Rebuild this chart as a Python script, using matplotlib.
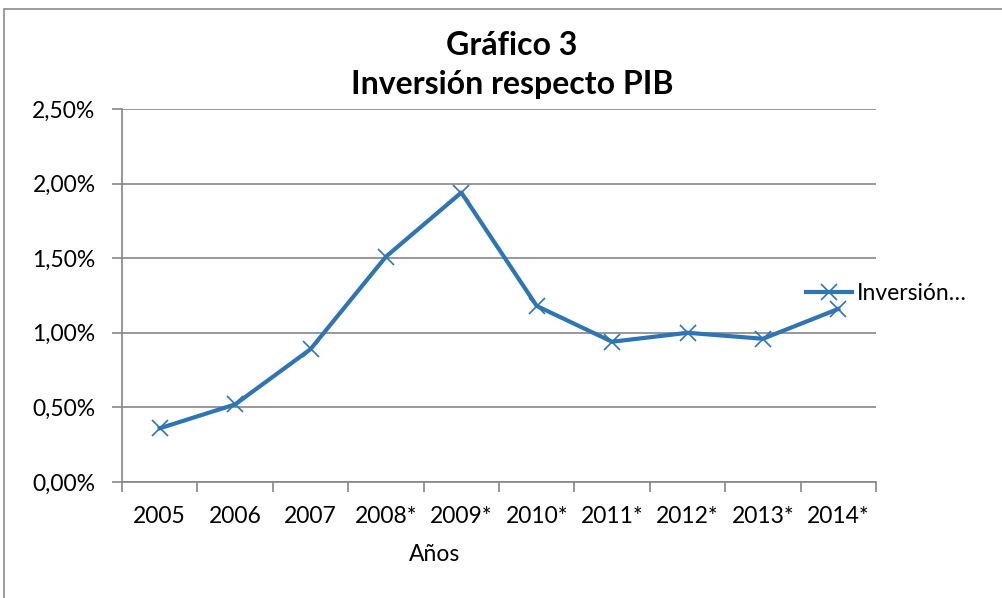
import matplotlib.pyplot as plt
from matplotlib.patches import Rectangle
from matplotlib.ticker import FuncFormatter

plt.rcParams['font.family'] = ['Lato', 'DejaVu Sans']

anios = ['2005', '2006', '2007', '2008*', '2009*', '2010*', '2011*', '2012*', '2013*', '2014*']
inversion = [0.0036, 0.0052, 0.0089, 0.0151, 0.0194, 0.0118, 0.0094, 0.0100, 0.0096, 0.0116]

fig = plt.figure(figsize=(10.02, 5.98), dpi=100)
ax = fig.add_axes([122/1002, 1 - 482/598, (876-122)/1002, (482-109)/598])

# marco del grafico (solo se ven borde superior e izquierdo)
fig.patches.append(Rectangle((4/1002, -0.1), 1.2, 1 - 9/598 + 0.1, transform=fig.transFigure,
                             fill=False, edgecolor='#8c8c8c', linewidth=1.2))

x = list(range(len(anios)))
ax.plot(x, inversion, color='#2e75b6', linewidth=3, marker='x', markersize=11,
        markeredgewidth=1.2, label='Inversión…')

ax.set_xlim(-0.5, len(anios) - 0.5)
ax.set_ylim(0, 0.025)
ax.set_yticks([0, 0.005, 0.01, 0.015, 0.02, 0.025])
ax.yaxis.set_major_formatter(FuncFormatter(lambda v, p: f'{v*100:.2f}%'.replace('.', ',')))
ax.set_xticks(x)
ax.set_xticklabels(anios)
ax.set_xticks([i - 0.5 for i in range(len(anios) + 1)], minor=True)
ax.tick_params(axis='x', which='major', length=0, pad=17, labelsize=16.5)
ax.tick_params(axis='x', which='minor', length=7, color='#868686', width=1.2, direction='out')
ax.tick_params(axis='y', length=7, color='#868686', width=1.2, labelsize=16.5, pad=12)

ax.grid(axis='y', color='#989898', linewidth=1.4)
ax.set_axisbelow(True)
for s in ['top', 'right']:
    ax.spines[s].set_visible(False)
ax.spines['left'].set_color('#868686')
ax.spines['bottom'].set_color('#868686')
ax.spines['left'].set_linewidth(1.2)
ax.spines['bottom'].set_linewidth(1.2)

fig.text(512/1002, 1 - 55/598, 'Gráfico 3', ha='center', va='baseline', fontsize=23, fontweight='bold')
fig.text(512/1002, 1 - 94/598, 'Inversión respecto PIB', ha='center', va='baseline', fontsize=23, fontweight='bold')
fig.text(435/1002, 1 - 561/598, 'Años', ha='center', va='baseline', fontsize=16.5)

ax.legend(loc='center left', bbox_to_anchor=(0.895, 0.505), frameon=False, fontsize=16.5,
          handlelength=2.0, handletextpad=0.2, borderaxespad=0)

fig.savefig('out.png', dpi=100)
